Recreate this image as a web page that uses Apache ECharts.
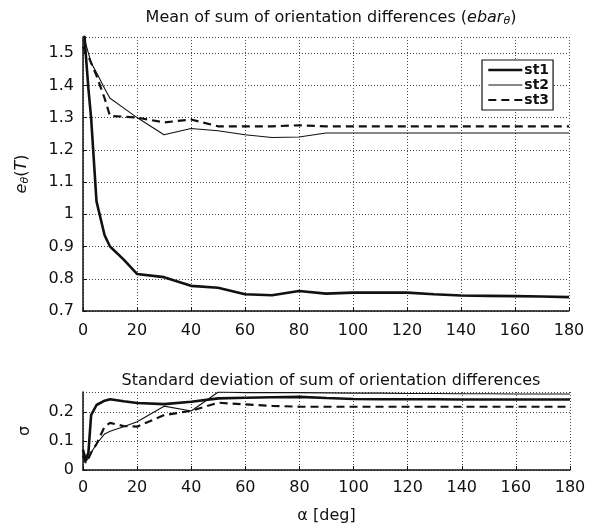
<!DOCTYPE html>
<html><head><meta charset="utf-8">
<script src="https://cdn.jsdelivr.net/npm/echarts@6/dist/echarts.min.js"></script>
<style>html,body{margin:0;padding:0;background:#fff}#c{width:593px;height:530px}</style>
</head><body><div id="c"></div>
<script>
// alpha values (deg)
const alpha = [0,1,2,3,5,8,10,15,20,30,40,50,60,70,80,90,100,110,120,130,140,150,160,170,180];
// Mean of sum of orientation differences
const meanSt1 = [1.62,1.50,1.39,1.30,1.04,0.935,0.90,0.86,0.815,0.805,0.778,0.772,0.752,0.749,0.762,0.754,0.757,0.757,0.757,0.752,0.748,0.747,0.746,0.745,0.743];
const meanSt2 = [1.57,1.53,1.50,1.47,1.44,1.39,1.36,1.33,1.30,1.247,1.266,1.259,1.247,1.238,1.24,1.252,1.252,1.252,1.252,1.252,1.252,1.252,1.252,1.252,1.252];
const meanSt3 = [1.52,1.50,1.49,1.47,1.43,1.36,1.305,1.303,1.30,1.285,1.294,1.273,1.273,1.273,1.276,1.273,1.273,1.273,1.273,1.273,1.273,1.273,1.273,1.273,1.273];
// Standard deviation
const sdSt1 = [0.07,0.035,0.06,0.19,0.225,0.24,0.245,0.238,0.232,0.228,0.236,0.248,0.25,0.252,0.253,0.249,0.246,0.245,0.245,0.245,0.244,0.244,0.244,0.244,0.244];
const sdSt2 = [0.06,0.03,0.04,0.06,0.09,0.125,0.134,0.15,0.167,0.221,0.204,0.27,0.268,0.268,0.268,0.267,0.266,0.266,0.265,0.265,0.264,0.264,0.263,0.263,0.263];
const sdSt3 = [0.05,0.025,0.04,0.06,0.09,0.15,0.163,0.152,0.15,0.19,0.205,0.233,0.227,0.222,0.219,0.219,0.219,0.219,0.219,0.219,0.219,0.219,0.219,0.219,0.219];
const seriesNames = ['st1','st2','st3'];

const pair = ys => alpha.map((a,i)=>[a,ys[i]]);
const FONT = 'DejaVu Sans, Verdana, sans-serif';
const INK = '#111';
const gridLine = {show:true, lineStyle:{color:'#444', type:[1,2], width:1}};
const styles = [
  {width:2.6, type:'solid'},
  {width:1.1, type:'solid'},
  {width:2.2, type:[8,5]}
];
function xAxis(gi, margin){
  return {type:'value', gridIndex:gi, min:0, max:180, interval:20,
    axisLine:{show:true, onZero:false, lineStyle:{color:INK, width:1.5}},
    axisTick:{show:true, inside:true, length:4, lineStyle:{color:INK}},
    axisLabel:{color:INK, fontSize:16, fontFamily:FONT, margin:margin},
    splitLine:gridLine};
}
const chart = echarts.init(document.getElementById('c'), null, {renderer:'canvas'});
const mk = (name, data, gi, st) => ({
  name: name, type:'line', xAxisIndex:gi, yAxisIndex:gi, data:data,
  showSymbol:false, symbol:'none', animation:false, clip:true,
  lineStyle:{color:INK, width:st.width, type:st.type}, itemStyle:{color:INK}
});
chart.setOption({
  backgroundColor:'#fff',
  animation:false,
  title:[
    {text:'Mean of sum of orientation differences ({i|ebar}{s|θ})', left:326, top:4, textAlign:'center',
     textStyle:{fontSize:16, fontWeight:'normal', color:INK, fontFamily:FONT,
       rich:{i:{fontStyle:'italic', fontSize:16, fontFamily:FONT, color:INK}, s:{fontStyle:'italic', fontSize:11, fontFamily:FONT, color:INK, padding:[7,0,0,0]}}}},
    {text:'Standard deviation of sum of orientation differences', left:326, top:368, textAlign:'center',
     textStyle:{fontSize:16, fontWeight:'normal', color:INK, fontFamily:FONT}}
  ],
  legend:{data:seriesNames.map((n,i)=>({name:n, lineStyle:{width:styles[i].width, type:styles[i].type, color:INK}})),
    orient:'vertical', left:482, top:60, padding:[3,4,3,5], itemGap:1,
    itemWidth:34, itemHeight:14, borderColor:INK, borderWidth:1.2, backgroundColor:'#fff',
    itemStyle:{opacity:0},
    textStyle:{fontSize:14, fontWeight:'bold', color:INK, fontFamily:FONT, padding:[0,0,0,-3]}},
  grid:[
    {left:83, right:24, top:37, bottom:219},
    {left:83, right:23, top:392, bottom:60}
  ],
  xAxis:[
    xAxis(0, 12),
    Object.assign(xAxis(1, 10), {name:'α [deg]', nameLocation:'middle', nameGap:38,
      nameTextStyle:{fontSize:16, color:INK, fontFamily:FONT}})
  ],
  yAxis:[
    {type:'value', gridIndex:0, min:0.7, max:1.55, interval:0.1,
     axisLine:{show:true, lineStyle:{color:INK, width:1.5}},
     axisTick:{show:true, inside:true, length:4, lineStyle:{color:INK}},
     axisLabel:{color:INK, fontSize:16, fontFamily:FONT, margin:9, showMaxLabel:false,
       formatter: v => (Math.abs(v*10-Math.round(v*10))<1e-6) ? String(+v.toFixed(1)) : ''},
     splitLine:gridLine,
     name:'{e|e}{s|θ}{n|(}{e|T}{n|)}', nameLocation:'middle', nameGap:52, nameRotate:90,
     nameTextStyle:{color:INK, fontFamily:FONT,
       rich:{e:{fontStyle:'italic', fontSize:16, fontFamily:FONT, color:INK},
             s:{fontStyle:'italic', fontSize:11, fontFamily:FONT, color:INK, padding:[8,0,0,0]},
             n:{fontSize:16, fontFamily:FONT, color:INK}}}},
    {type:'value', gridIndex:1, min:0, max:0.27, interval:0.1,
     axisLine:{show:true, lineStyle:{color:INK, width:1.5}},
     axisTick:{show:true, inside:true, length:4, lineStyle:{color:INK}},
     axisLabel:{color:INK, fontSize:16, fontFamily:FONT, margin:9, showMaxLabel:false,
       formatter: v => (Math.abs(v*10-Math.round(v*10))<1e-6) ? String(+v.toFixed(1)) : ''},
     splitLine:gridLine,
     name:'σ', nameLocation:'middle', nameGap:50, nameRotate:90,
     nameTextStyle:{fontSize:16, color:INK, fontFamily:FONT}}
  ],
  series:[
    mk('st1', pair(meanSt1), 0, styles[0]),
    mk('st2', pair(meanSt2), 0, styles[1]),
    mk('st3', pair(meanSt3), 0, styles[2]),
    mk('st1', pair(sdSt1), 1, styles[0]),
    mk('st2', pair(sdSt2), 1, styles[1]),
    mk('st3', pair(sdSt3), 1, styles[2])
  ]
});
</script></body></html>
